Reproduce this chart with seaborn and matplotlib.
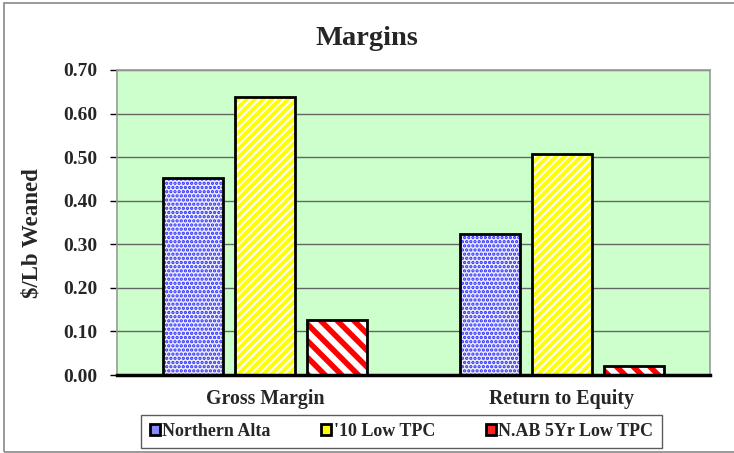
import pandas as pd
import seaborn as sns
import matplotlib.pyplot as plt
from matplotlib.patches import Rectangle, Patch

# Datos
categorias = ["Gross Margin", "Return to Equity"]
series = ["Northern Alta", "'10 Low TPC", "N.AB 5Yr Low TPC"]
northern_alta = [0.453, 0.323]
low_tpc_10 = [0.637, 0.507]
nab_5yr = [0.127, 0.020]

df = pd.DataFrame({
    "categoria": categorias * 3,
    "serie": [series[0]] * 2 + [series[1]] * 2 + [series[2]] * 2,
    "valor": northern_alta + low_tpc_10 + nab_5yr,
})

sns.set_style("white")
plt.rcParams["font.family"] = ["Liberation Serif", "DejaVu Serif"]
plt.rcParams["font.weight"] = "bold"

fig = plt.figure(figsize=(7.34, 4.53), dpi=100)
ax = fig.add_axes([117 / 734, 1 - 375 / 453, 593 / 734, 305 / 453])

palette = {series[0]: "#ececff", series[1]: "#ffff00", series[2]: "#ffffff"}
sns.barplot(data=df, x="categoria", y="valor", hue="serie", palette=palette,
            width=0.73, gap=0.17, ax=ax, legend=False, saturation=1)

# Tramas de cada serie (color de trama, trama, grosor)
tramas = [("#2a2aff", "....", 1.6), ("#ffffff", "////", 1.5), ("#ff0000", "\\\\", 4)]
for cont, (col, h, lw) in zip(ax.containers, tramas):
    for bar in cont:
        bar.set_hatch(h)
        bar.set_edgecolor(col)
        bar.set_linewidth(0)
        try:
            bar.set_hatch_linewidth(lw)
        except AttributeError:
            pass
        ax.add_patch(Rectangle((bar.get_x(), bar.get_y()), bar.get_width(), bar.get_height(),
                               fill=False, edgecolor="black", linewidth=2, zorder=3))

ax.set_facecolor("#ccffcc")
ax.set_ylim(0, 0.70)
ax.set_xlim(-0.5, 1.5)
ax.set_yticks([0, 0.1, 0.2, 0.3, 0.4, 0.5, 0.6, 0.7])
ax.set_yticklabels([f"{v:.2f}" for v in ax.get_yticks()], fontsize=14, fontweight="bold")
ax.set_xticks([0, 1])
ax.set_xticklabels(categorias, fontsize=14.3, fontweight="bold")
ax.set_xticks([-0.5, 0.5, 1.5], minor=True)
ax.tick_params(axis="x", which="major", length=0, pad=10)
ax.tick_params(axis="x", which="minor", length=5, width=1.2, direction="out", color="black")
ax.tick_params(axis="y", length=5, width=1, direction="out", color="black", left=True, pad=9)
ax.yaxis.grid(True, color="#666666", linewidth=1)
ax.set_axisbelow(True)
for s in ["top", "right", "left"]:
    ax.spines[s].set_color("#999999")
    ax.spines[s].set_linewidth(1.2)
ax.spines["bottom"].set_color("black")
ax.spines["bottom"].set_linewidth(2.5)
ax.set_xlabel("")
ax.set_ylabel("$/Lb Weaned", fontsize=16.5, fontweight="bold")
ax.yaxis.set_label_coords(-0.126, 0.466)
fig.text(0.5, 1 - 45 / 453, "Margins", ha="center", va="baseline", fontsize=20.5, fontweight="bold")

handles = [Patch(facecolor=c, edgecolor="black", linewidth=2)
           for c in ["#8888ff", "#ffff00", "#ff2222"]]
leg = fig.legend(handles, series, loc="center", bbox_to_anchor=(401.5 / 734, 1 - 431.5 / 453),
                 ncol=3, frameon=True, fancybox=False, edgecolor="#333333",
                 prop={"size": 13, "weight": "bold"}, handlelength=0.55, handleheight=0.55,
                 handletextpad=0.15, columnspacing=2.8, borderpad=0.45, borderaxespad=0)
leg.get_frame().set_linewidth(1)

# Marco exterior
fig.patches.append(Rectangle((0.006, 0.003), 1.0, 0.99, transform=fig.transFigure,
                             fill=False, edgecolor="#888888", linewidth=1.2))

plt.savefig("out.png", dpi=100)
